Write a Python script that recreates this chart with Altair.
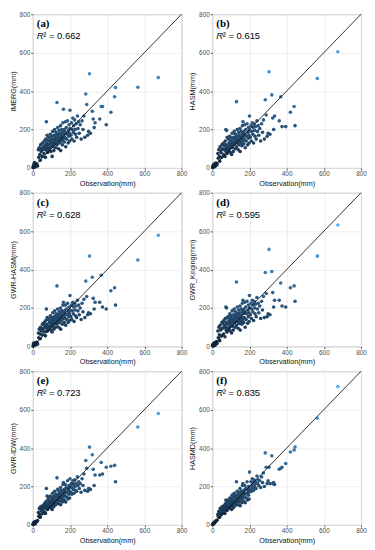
import altair as alt
import pandas as pd

# Shared observation values (mm)
obs = [
    2, 3, 5, 6, 8, 10, 12, 14, 16, 19, 22, 26,
    30, 32, 35, 38, 40, 42, 45, 47, 50, 52, 55, 57, 60, 62, 64, 66, 68, 70, 72, 74, 75, 77, 78, 80, 80,
    84, 86, 88, 90, 92, 94, 95, 97, 99, 100,
    102, 104, 105, 107, 108, 110, 112, 113, 115, 117,
    118, 120, 121, 123, 125, 126, 128, 130, 130, 132,
    134, 135, 137, 139, 140, 142, 144, 145, 147, 149,
    150, 152, 154, 155, 157, 159, 160, 162, 164, 165,
    167, 169, 170, 172, 175, 177, 180, 182, 185, 187,
    190, 192, 194, 195, 197, 198, 200, 200, 165, 175,
    205, 208, 210, 212, 215, 218, 220, 222, 225, 228,
    230, 233, 236, 240, 243, 247, 250, 255, 260, 265,
    270, 275, 280, 285, 290, 295, 300, 310, 320, 330,
    305, 325, 335, 368, 375, 360, 395, 420, 440, 445, 565, 675, 73,
]

imerg = [
    4, 10, 2, 20, 8, 28, 15, 5, 22, 12, 18, 10,
    95, 55, 105, 70, 40, 120, 85, 100, 60, 130, 95, 110, 75, 140, 100, 120, 55, 150, 110, 90, 130, 170, 105, 80, 145,
    120, 160, 95, 140, 105, 175, 130, 85, 150, 115,
    165, 60, 135, 190, 110, 150, 125, 90, 170, 140,
    200, 130, 160, 105, 185, 145, 170, 340, 120, 155,
    210, 140, 175, 100, 160, 195, 130, 180, 150, 220,
    90, 170, 140, 200, 160, 120, 185, 235, 150, 305,
    175, 135, 200, 160, 185, 110, 210, 150, 175, 245,
    130, 195, 165, 225, 180, 140, 300, 205, 190, 240,
    170, 235, 150, 200, 260, 185, 220, 140, 250, 200,
    175, 230, 160, 270, 205, 240, 180, 225, 150, 245,
    200, 270, 160, 385, 330, 170, 190, 180, 295, 210,
    490, 255, 235, 320, 320, 255, 225, 290, 370, 418, 420, 470, 240,
]

hasm = [
    5, 8, 3, 15, 10, 20, 12, 6, 18, 25, 14, 20,
    75, 50, 95, 60, 35, 110, 90, 80, 55, 120, 100, 125, 70, 130, 95, 115, 60, 140, 100, 85, 120, 195, 100, 75, 160,
    110, 150, 90, 130, 100, 165, 120, 80, 140, 110,
    155, 70, 125, 180, 105, 140, 120, 85, 160, 130,
    190, 125, 150, 100, 175, 135, 160, 345, 110, 145,
    200, 130, 165, 95, 150, 185, 120, 170, 140, 205,
    85, 160, 130, 190, 150, 115, 175, 220, 140, 240,
    165, 125, 190, 150, 175, 105, 200, 140, 165, 230,
    120, 185, 155, 210, 170, 130, 270, 195, 180, 225,
    160, 220, 140, 190, 235, 175, 210, 130, 230, 195,
    165, 215, 150, 245, 190, 220, 170, 205, 140, 230,
    185, 250, 150, 355, 275, 165, 180, 175, 380, 200,
    500, 260, 270, 370, 215, 245, 215, 290, 320, 220, 465, 605, 200,
]

gwr_hasm = [
    3, 12, 4, 18, 6, 15, 10, 8, 20, 14, 22, 12,
    70, 45, 90, 65, 40, 100, 80, 95, 60, 115, 90, 120, 75, 125, 100, 110, 55, 135, 105, 80, 115, 150, 95, 80, 140,
    105, 145, 95, 125, 100, 160, 120, 85, 135, 110,
    150, 75, 125, 175, 105, 140, 115, 90, 155, 130,
    185, 125, 150, 100, 170, 135, 160, 315, 115, 145,
    195, 130, 165, 100, 150, 180, 125, 170, 140, 200,
    90, 160, 135, 185, 150, 115, 175, 215, 145, 230,
    165, 125, 185, 150, 170, 110, 195, 140, 165, 225,
    125, 180, 155, 205, 170, 135, 265, 190, 175, 215,
    155, 215, 140, 185, 230, 170, 205, 130, 225, 190,
    160, 210, 150, 240, 185, 215, 165, 200, 140, 225,
    180, 245, 150, 340, 260, 165, 175, 170, 360, 195,
    470, 250, 230, 370, 205, 230, 195, 290, 305, 215, 450, 578, 195,
]

gwr_kriging = [
    6, 9, 2, 14, 12, 18, 16, 5, 10, 20, 25, 15,
    80, 45, 100, 60, 30, 110, 85, 90, 55, 125, 95, 120, 65, 135, 100, 110, 50, 145, 100, 85, 125, 200, 95, 75, 150,
    115, 155, 90, 135, 100, 170, 125, 80, 145, 110,
    160, 70, 130, 185, 105, 145, 120, 85, 165, 135,
    195, 125, 155, 100, 180, 140, 165, 335, 110, 150,
    205, 130, 170, 95, 155, 190, 120, 175, 140, 210,
    85, 165, 130, 195, 150, 115, 180, 225, 140, 240,
    170, 125, 195, 150, 180, 100, 205, 140, 170, 235,
    120, 190, 155, 215, 175, 130, 265, 200, 185, 230,
    165, 225, 145, 195, 240, 180, 215, 135, 235, 200,
    170, 220, 155, 255, 195, 225, 175, 210, 145, 235,
    190, 260, 150, 385, 275, 155, 170, 165, 390, 205,
    505, 280, 240, 330, 210, 240, 205, 305, 315, 235, 470, 632, 205,
]

gwr_idw = [
    4, 8, 3, 12, 10, 16, 14, 6, 18, 15, 20, 22,
    65, 45, 85, 55, 40, 95, 75, 90, 60, 100, 85, 95, 70, 110, 90, 100, 60, 120, 95, 85, 110, 150, 90, 80, 130,
    105, 140, 95, 120, 100, 150, 115, 90, 130, 110,
    145, 80, 120, 165, 105, 135, 115, 95, 150, 125,
    175, 125, 145, 105, 160, 130, 155, 245, 115, 140,
    185, 130, 160, 110, 145, 175, 125, 165, 140, 195,
    105, 155, 135, 180, 150, 120, 170, 210, 145, 220,
    165, 130, 185, 155, 170, 120, 195, 145, 170, 230,
    135, 185, 160, 205, 175, 140, 240, 195, 180, 210,
    170, 215, 160, 195, 230, 185, 210, 165, 235, 200,
    180, 215, 175, 250, 205, 225, 190, 215, 170, 240,
    205, 265, 180, 335, 295, 175, 190, 185, 365, 205,
    405, 290, 260, 325, 265, 260, 300, 305, 310, 225, 510, 580, 190,
]

hasmd = [
    3, 5, 4, 8, 10, 12, 14, 12, 18, 20, 22, 25,
    55, 45, 70, 50, 40, 85, 60, 80, 55, 95, 70, 90, 65, 100, 80, 95, 60, 110, 90, 80, 100, 125, 90, 75, 115,
    100, 130, 90, 115, 95, 140, 110, 85, 125, 105,
    140, 80, 115, 155, 100, 130, 110, 90, 145, 120,
    165, 120, 140, 100, 155, 125, 150, 225, 110, 135,
    175, 125, 155, 105, 140, 170, 120, 160, 135, 190,
    100, 150, 130, 175, 145, 115, 165, 205, 140, 215,
    160, 125, 180, 150, 165, 115, 190, 140, 165, 225,
    130, 180, 155, 200, 170, 135, 275, 190, 175, 205,
    185, 225, 175, 205, 240, 195, 220, 180, 235, 210,
    195, 225, 190, 255, 215, 235, 205, 230, 195, 250,
    220, 270, 200, 375, 300, 215, 230, 215, 360, 220,
    300, 215, 210, 295, 300, 290, 320, 380, 390, 405, 555, 720, 130,
]

panel_tags = ["(a)", "(b)", "(c)", "(d)", "(e)", "(f)"]
r2_labels = ["² = 0.662", "² = 0.615", "² = 0.628", "² = 0.595", "² = 0.723", "² = 0.835"]
y_titles = ["IMERG(mm)", "HASM(mm)", "GWR-HASM(mm)", "GWR_Kriging(mm)", "GWR-IDW(mm)", "HASMD(mm)"]
series = [imerg, hasm, gwr_hasm, gwr_kriging, gwr_idw, hasmd]
axis_ticks = [0, 200, 400, 600, 800]
diag = [0, 800]

W, H = 150, 155


def axis(title):
    return alt.Axis(values=axis_ticks, title=title, labelOverlap=False,
                    labelFlush=False, labelBound=False, labelFontSize=6.5, labelColor="#4d4d4d")


def panel(i):
    df = pd.DataFrame({"obs": obs, "est": series[i]})
    sc = alt.Scale(domain=[0, 800], nice=False)
    xa = axis("Observation(mm)")
    ya = axis(y_titles[i])
    pts = alt.Chart(df).mark_circle(size=13, opacity=1).encode(
        x=alt.X("obs:Q", scale=sc, axis=xa),
        y=alt.Y("est:Q", scale=sc, axis=ya),
        color=alt.Color("est:Q", scale=alt.Scale(domain=[0, 650], range=["#132B43", "#56B1F7"], clamp=True), legend=None),
    )
    line = alt.Chart(pd.DataFrame({"v": diag})).mark_line(color="black", strokeWidth=0.8).encode(
        x=alt.X("v:Q", scale=sc, axis=xa), y=alt.Y("v:Q", scale=sc, axis=ya)
    )
    tag = alt.Chart(pd.DataFrame({"t": [panel_tags[i]]})).mark_text(
        align="left", baseline="middle", font="Liberation Serif", fontWeight="bold", fontSize=11, color="black"
    ).encode(x=alt.value(4), y=alt.value(10), text="t:N")
    rr = alt.Chart(pd.DataFrame({"t": ["R"]})).mark_text(
        align="left", baseline="middle", font="Liberation Sans", fontStyle="italic", fontSize=9.5, color="black"
    ).encode(x=alt.value(4), y=alt.value(22), text="t:N")
    r2 = alt.Chart(pd.DataFrame({"t": [r2_labels[i]]})).mark_text(
        align="left", baseline="middle", font="Liberation Sans", fontSize=9.5, color="black"
    ).encode(x=alt.value(10.5), y=alt.value(22), text="t:N")
    return alt.layer(pts, line, tag, rr, r2).properties(width=W, height=H)


rows = [alt.hconcat(panel(2 * r), panel(2 * r + 1), spacing=0) for r in range(3)]
chart = alt.vconcat(*rows, spacing=1).properties(
    padding={"left": 0, "top": 0, "right": 0, "bottom": 0}
).configure_view(stroke="#bdbdbd", strokeWidth=1).configure_axis(
    labelFont="Liberation Sans", labelOverlap=False,
    titleFont="Liberation Sans", titleFontSize=7.3, titleFontWeight="normal", titleColor="#111111",
    tickColor="#555555", tickSize=2, labelPadding=1, titlePadding=2,
    domain=False, gridColor="#e6e6e6", gridWidth=0.7,
)

chart.save("out.html", embed_options={"renderer": "svg", "actions": False})
